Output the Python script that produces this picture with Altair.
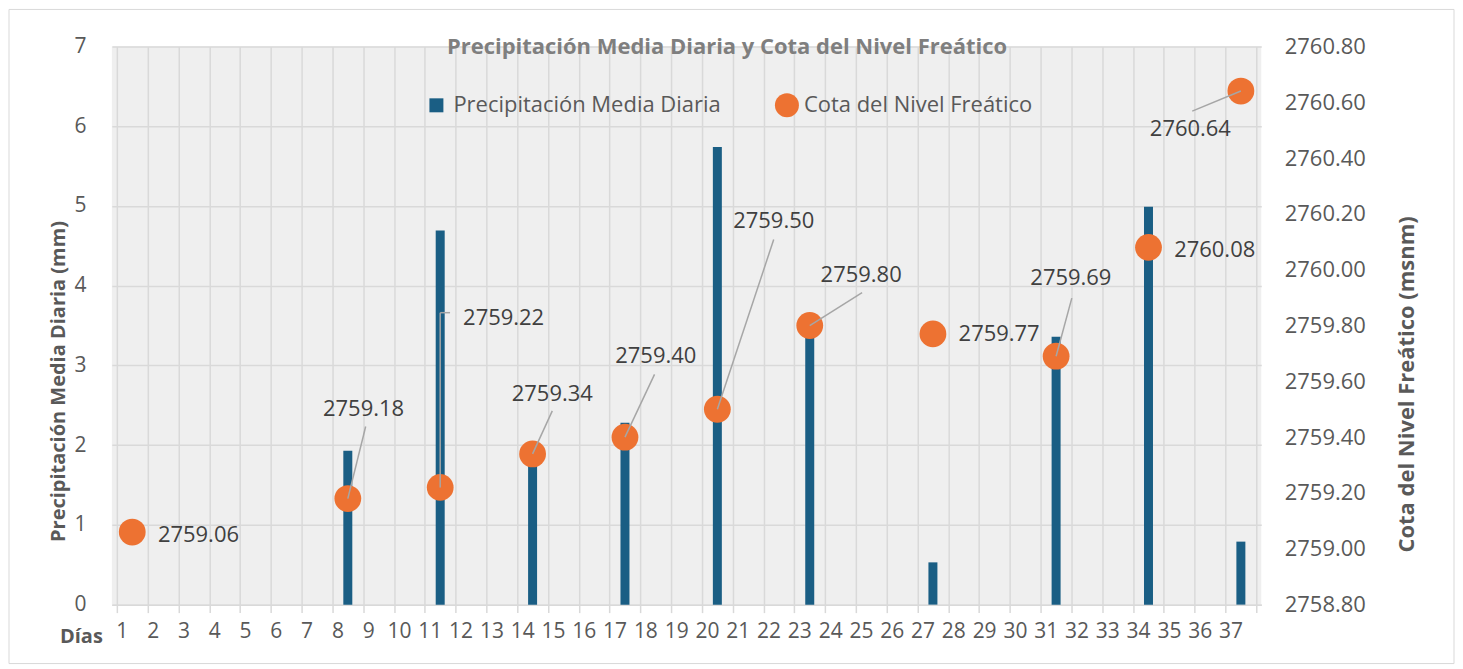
import altair as alt
import pandas as pd

# ---------------- data ----------------
dias = list(range(1, 38))
dias_precip = [8, 11, 14, 17, 20, 23, 27, 31, 34, 37]
precip = [1.93, 4.69, 1.90, 2.28, 5.74, 3.45, 0.53, 3.36, 4.99, 0.79]
dias_cota = [1, 8, 11, 14, 17, 20, 23, 27, 31, 34, 37]
cota = [2759.06, 2759.18, 2759.22, 2759.34, 2759.40, 2759.50,
        2759.80, 2759.77, 2759.69, 2760.08, 2760.64]

titulo = "Precipitación Media Diaria y Cota del Nivel Freático"
serie_p = "Precipitación Media Diaria"
serie_c = "Cota del Nivel Freático"
eje_x = "Días"
eje_izq = "Precipitación Media Diaria (mm)"
eje_der = "Cota del Nivel Freático (msnm)"
ticks_izq = [0, 1, 2, 3, 4, 5, 6, 7]
ticks_der = [2758.80, 2759.00, 2759.20, 2759.40, 2759.60, 2759.80,
             2760.00, 2760.20, 2760.40, 2760.60, 2760.80]

# ---------------- layout (label placement, axis units) ----------------
# day -> (label dx, label dy, leader polyline points relative to the dot)
etiquetas = {
    1: (2.15, -0.011, []),
    8: (0.51, 0.322, [(0.58, 0.258)]),
    11: (2.06, 0.608, [(0.0, 0.626), (0.32, 0.626)]),
    14: (0.64, 0.215, [(0.64, 0.154)]),
    17: (1.00, 0.290, [(0.96, 0.225)]),
    20: (1.83, 0.676, [(1.83, 0.608)]),
    23: (1.67, 0.180, [(1.70, 0.118)]),
    27: (2.15, 0.000, []),
    31: (0.48, 0.280, [(0.51, 0.208)]),
    34: (2.15, -0.010, []),
    37: (-1.64, -0.136, [(-1.58, -0.072)]),
}

azul = "#1a5e84"
naranja = "#ed7232"
gris_grid = "#d9d9d9"
gris_txt = "#595959"
FONT = "Open Sans"

df_p = pd.DataFrame({"dia": dias_precip, "precip": precip, "serie": serie_p})
df_c = pd.DataFrame({"dia": dias_cota, "cota": cota, "serie": serie_c})

lab_rows, seg_rows = [], []
for d, v in zip(dias_cota, cota):
    dx, dy, pts = etiquetas[d]
    lab_rows.append({"lx": d + dx, "ly": v + dy, "txt": f"{v:.2f}"})
    px, py = d, v
    for ox, oy in pts:
        nx, ny = d + ox, v + oy
        seg_rows.append({"sx": px, "sy": py, "ex": nx, "ey": ny})
        px, py = nx, ny
df_lab = pd.DataFrame(lab_rows)
df_seg = pd.DataFrame(seg_rows)

# ---------------- scales / axes ----------------
xscale = alt.Scale(domain=[0.5, 37.5], nice=False, zero=False)
bordes = [d - 0.5 for d in dias] + [dias[-1] + 0.5]
xaxis = alt.Axis(
    values=bordes, title=eje_x, grid=True, gridColor=gris_grid, gridWidth=1.5,
    domainColor=gris_grid, domainWidth=1.5, tickColor=gris_grid, tickWidth=1.5,
    tickSize=8, labelExpr="datum.value < 37 ? format(datum.value + 0.5, 'd') : ''",
    labelOffset=5, labelPadding=8, labelFontSize=21, labelColor=gris_txt,
    labelOverlap=False, labelFlush=False, labelBound=False,
    titleX=-31, titleY=32, titleAlign="center", titleBaseline="middle",
    titleFontSize=20, titleFontWeight="bold", titleColor=gris_txt, titleAngle=0,
)
yscale_izq = alt.Scale(domain=[0, 7], nice=False)
yscale_der = alt.Scale(domain=[2758.8, 2760.8], nice=False, zero=False)

yaxis_izq = alt.Axis(
    values=ticks_izq, title=eje_izq, grid=True, gridColor=gris_grid, gridWidth=1.5,
    domain=False, ticks=False, labelPadding=26, labelFontSize=21, labelColor=gris_txt,
    titleX=-53, titleY=335, titleAngle=270, titleAlign="center", titleBaseline="middle",
    titleFontSize=20, titleFontWeight="bold", titleColor=gris_txt,
)
yaxis_der = alt.Axis(
    values=ticks_der, format=".2f", orient="right", title=eje_der, grid=False,
    domain=False, ticks=False, labelPadding=23, labelFontSize=22, labelColor=gris_txt,
    titleX=145, titleY=338, titleAngle=270, titleAlign="center", titleBaseline="middle",
    titleFontSize=22, titleFontWeight="bold", titleColor=gris_txt,
)

# ---------------- layers ----------------
barras = alt.Chart(df_p).mark_bar(size=9).encode(
    x=alt.X("dia:Q", scale=xscale, axis=xaxis),
    y=alt.Y("precip:Q", scale=yscale_izq, axis=yaxis_izq),
    color=alt.Color("serie:N", scale=alt.Scale(domain=[serie_p], range=[azul]),
                    legend=alt.Legend(orient="none", legendX=314, legendY=48, title=None,
                                      symbolType="square", symbolSize=196, labelOffset=6,
                                      labelFontSize=22, labelColor=gris_txt, padding=0,
                                      labelLimit=0, symbolStrokeWidth=0)),
)

puntos = alt.Chart(df_c).mark_circle(size=720, opacity=1).encode(
    x=alt.X("dia:Q", scale=xscale, axis=xaxis),
    y=alt.Y("cota:Q", scale=yscale_der, axis=yaxis_der),
    fill=alt.Fill("serie:N", scale=alt.Scale(domain=[serie_c], range=[naranja]),
                  legend=alt.Legend(orient="none", legendX=664, legendY=47, title=None,
                                    symbolType="circle", symbolSize=576, labelOffset=5,
                                    labelFontSize=22, labelColor=gris_txt, padding=0,
                                    labelLimit=0, symbolStrokeWidth=0)),
)

guias = alt.Chart(df_seg).mark_rule(color="#a6a6a6", strokeWidth=1.5).encode(
    x=alt.X("sx:Q", scale=xscale, axis=xaxis),
    x2="ex:Q",
    y=alt.Y("sy:Q", scale=yscale_der, axis=None),
    y2="ey:Q",
)

textos = alt.Chart(df_lab).mark_text(
    fontSize=22, color="#404040", align="center", baseline="middle"
).encode(
    x=alt.X("lx:Q", scale=xscale, axis=xaxis),
    y=alt.Y("ly:Q", scale=yscale_der, axis=None),
    text="txt:N",
)

df_tit = pd.DataFrame({"t": [titulo]})
titulo_txt = alt.Chart(df_tit).mark_text(
    fontSize=22, fontWeight="bold", color="#7f7f7f", align="center", baseline="middle"
).encode(x=alt.value(616), y=alt.value(1), text="t:N")

marco = alt.Chart(df_tit).mark_rect(fillOpacity=0, stroke=gris_grid, strokeWidth=1).encode(
    x=alt.value(-103), x2=alt.value(1344), y=alt.value(-37), y2=alt.value(618)
)

chart = alt.layer(marco, barras, puntos, guias, textos, titulo_txt).resolve_scale(
    y="independent"
).properties(
    width=1151, height=559, padding=0
).configure(font=FONT).configure_view(fill="#efefef", strokeWidth=0)

chart.save("out.html", embed_options={"renderer": "svg", "actions": False})
